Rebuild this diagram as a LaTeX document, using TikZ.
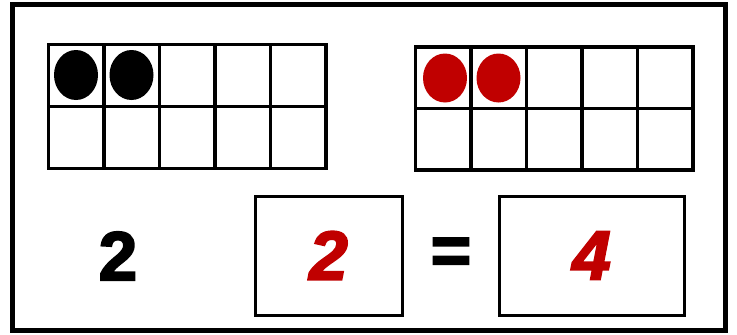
\documentclass[tikz,border=0pt]{standalone}
\usepackage{fontspec}
\setmainfont{Liberation Sans}[BoldFeatures={FakeBold=3},BoldItalicFeatures={FakeBold=3}]
\definecolor{dotred}{RGB}{192,0,0}
\tikzset{
  frameline/.style={line width=3.3pt, line cap=rect},
  outer/.style={line width=5pt},
  digit/.style={inner sep=0pt, font=\fontsize{69}{69}\selectfont\bfseries},
  ansbox/.style={draw, line width=3pt, inner sep=0pt, font=\fontsize{69}{69}\selectfont\bfseries\itshape, text=dotred}
}
\begin{document}
\begin{tikzpicture}[x=1pt,y=-1pt]
\useasboundingbox (0,0) rectangle (737,335);
\fill[white] (0,0) rectangle (737,335);
\draw[outer] (12.5,4.5) rectangle (725,330);
% left ten frame
\foreach \i in {0,...,5} \draw[frameline] ({48.5+55.5*\i},44.5) -- ({48.5+55.5*\i},168.5);
\foreach \j in {0,1,2} \draw[frameline] (48.5,{44.5+62*\j}) -- (326,{44.5+62*\j});
\fill[black] (76,75) ellipse [x radius=22, y radius=25];
\fill[black] (131.5,75) ellipse [x radius=22, y radius=25];
% right ten frame
\foreach \i in {0,...,5} \draw[frameline] ({415.5+55.5*\i},47) -- ({415.5+55.5*\i},170);
\foreach \j in {0,1,2} \draw[frameline] (415.5,{47+61.5*\j}) -- (693,{47+61.5*\j});
\fill[dotred] (445,78) ellipse [x radius=22, y radius=24.5];
\fill[dotred] (498.5,78) ellipse [x radius=22, y radius=24.5];
% equation
\node[digit] (a) at (118,256) {2};
\node[ansbox, minimum width=147pt, minimum height=119pt] (b) at (328.5,255.5) {2};
\node[digit] (eq) at (451,256) {=};
\node[ansbox, minimum width=185pt, minimum height=119pt] (c) at (591.5,255.5) {4};
\end{tikzpicture}
\end{document}
